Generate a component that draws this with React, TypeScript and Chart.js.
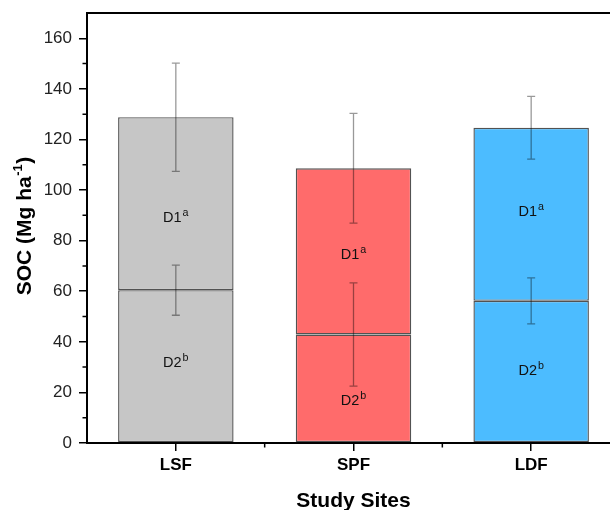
import React, { useEffect, useRef } from "react";
import { Chart, registerables } from "chart.js";

Chart.register(...registerables);

const categories = ["LSF", "SPF", "LDF"];
const d2Values = [60.4, 42.9, 56.2];
const d1Values = [68.4, 65.7, 68.4];
const d2Err = [9.9, 20.4, 9.1];
const totalErr = [21.4, 21.7, 12.4];
const d1LabelY = [89.5, 74.7, 91.7];
const d2LabelY = [32, 17, 28.8];
const d1Letters = ["a", "a", "a"];
const d2Letters = ["b", "b", "b"];
const fillColors = ["#c6c6c6", "#ff6b6b", "#4cbcff"];
const yMinorTicks = [10, 30, 50, 70, 90, 110, 130, 150];

const FONT = "'Liberation Sans', Arial, sans-serif";

function drawSup(ctx: CanvasRenderingContext2D, base: string, sup: string, cx: number, cy: number, size: number) {
  ctx.save();
  ctx.fillStyle = "#111";
  ctx.textBaseline = "alphabetic";
  ctx.font = `${size}px ${FONT}`;
  const w1 = ctx.measureText(base).width;
  const supSize = size * 0.74;
  ctx.font = `${supSize}px ${FONT}`;
  const w2 = ctx.measureText(sup).width;
  const total = w1 + w2 + 1;
  const x0 = cx - total / 2;
  const baseline = cy + size * 0.36;
  ctx.textAlign = "left";
  ctx.font = `${size}px ${FONT}`;
  ctx.fillText(base, x0, baseline);
  ctx.font = `${supSize}px ${FONT}`;
  ctx.fillText(sup, x0 + w1 + 1, baseline - size * 0.42);
  ctx.restore();
}

const extrasPlugin = {
  id: "extras",
  afterDatasetsDraw(chart: any) {
    const ctx: CanvasRenderingContext2D = chart.ctx;
    const x = chart.scales.x;
    const y = chart.scales.y;
    ctx.save();
    ctx.strokeStyle = "rgba(0,0,0,0.4)";
    ctx.lineWidth = 1.3;
    categories.forEach((_, i) => {
      const cx = x.getPixelForValue(i);
      const total = d2Values[i] + d1Values[i];
      const bars = [
        [d2Values[i], d2Err[i]],
        [total, totalErr[i]],
      ];
      bars.forEach(([v, e]) => {
        const yt = y.getPixelForValue(v + e);
        const yb = y.getPixelForValue(v - e);
        ctx.beginPath();
        ctx.moveTo(cx, yt);
        ctx.lineTo(cx, yb);
        ctx.moveTo(cx - 4, yt);
        ctx.lineTo(cx + 4, yt);
        ctx.moveTo(cx - 4, yb);
        ctx.lineTo(cx + 4, yb);
        ctx.stroke();
      });
      drawSup(ctx, "D1", d1Letters[i], cx, y.getPixelForValue(d1LabelY[i]), 14.5);
      drawSup(ctx, "D2", d2Letters[i], cx, y.getPixelForValue(d2LabelY[i]), 14.5);
    });
    ctx.restore();
  },
  afterDraw(chart: any) {
    const ctx: CanvasRenderingContext2D = chart.ctx;
    const x = chart.scales.x;
    const y = chart.scales.y;
    const area = chart.chartArea;
    ctx.save();
    ctx.strokeStyle = "#000";
    ctx.lineWidth = 2;
    ctx.beginPath();
    ctx.moveTo(area.left - 1, area.top);
    ctx.lineTo(chart.width, area.top);
    ctx.stroke();
    ctx.lineWidth = 1.5;
    ctx.beginPath();
    yMinorTicks.forEach((v) => {
      const py = y.getPixelForValue(v);
      ctx.moveTo(area.left - 4.5, py);
      ctx.lineTo(area.left, py);
    });
    for (let i = 0; i < categories.length - 1; i++) {
      const px = (x.getPixelForValue(i) + x.getPixelForValue(i + 1)) / 2;
      ctx.moveTo(px, area.bottom);
      ctx.lineTo(px, area.bottom + 4.5);
    }
    ctx.stroke();
    ctx.save();
    ctx.translate(25, 226);
    ctx.rotate(-Math.PI / 2);
    ctx.fillStyle = "#000";
    ctx.textBaseline = "middle";
    const big = `bold 21px ${FONT}`;
    const small = `bold 13px ${FONT}`;
    ctx.font = big;
    const p1 = "SOC (Mg ha";
    const w1 = ctx.measureText(p1).width;
    ctx.font = small;
    const w2 = ctx.measureText("-1").width;
    ctx.font = big;
    const w3 = ctx.measureText(")").width;
    const tot = w1 + w2 + w3 + 1;
    const sx = -tot / 2;
    ctx.textAlign = "left";
    ctx.fillText(p1, sx, 0);
    ctx.font = small;
    ctx.fillText("-1", sx + w1 + 0.5, -7);
    ctx.font = big;
    ctx.fillText(")", sx + w1 + w2 + 1, 0);
    ctx.restore();
    ctx.fillStyle = "#000";
    ctx.font = `bold 21px ${FONT}`;
    ctx.textAlign = "center";
    ctx.textBaseline = "alphabetic";
    ctx.fillText("Study Sites", (area.left + area.right) / 2, 507);
    ctx.restore();
  },
};

export default function App() {
  const ref = useRef<HTMLCanvasElement | null>(null);
  useEffect(() => {
    if (!ref.current) return;
    const chart = new Chart(ref.current, {
      type: "bar",
      data: {
        labels: categories,
        datasets: [
          {
            label: "D2",
            data: d2Values,
            backgroundColor: fillColors,
            borderColor: "rgba(0,0,0,0.68)",
            borderWidth: 1.4,
            borderSkipped: false,
            categoryPercentage: 1,
            barPercentage: 0.65,
          },
          {
            label: "D1",
            data: d1Values,
            backgroundColor: fillColors,
            borderColor: "rgba(0,0,0,0.68)",
            borderWidth: 1.4,
            borderSkipped: false,
            categoryPercentage: 1,
            barPercentage: 0.65,
          },
        ],
      },
      options: {
        responsive: false,
        animation: false,
        layout: { padding: { top: 13, right: 5, left: 0, bottom: 0 } },
        plugins: { legend: { display: false }, tooltip: { enabled: false } },
        scales: {
          x: {
            stacked: true,
            afterFit: (s: any) => {
              s.height = 67;
              s.paddingLeft = 0;
              s.paddingRight = 0;
            },
            grid: {
              display: true,
              drawOnChartArea: false,
              drawTicks: true,
              offset: false,
              tickLength: 8,
              color: "#000",
              lineWidth: 1.5,
            },
            border: { display: true, color: "#000", width: 2 },
            ticks: {
              padding: 4,
              color: "#000",
              font: { family: FONT, size: 17, weight: "bold" },
            },
          },
          y: {
            stacked: true,
            min: 0,
            max: 170,
            afterFit: (s: any) => {
              s.width = 87;
              s.paddingTop = 0;
              s.paddingBottom = 0;
            },
            grid: {
              display: true,
              drawOnChartArea: false,
              drawTicks: true,
              tickLength: 8,
              color: "#000",
              lineWidth: 1.5,
            },
            border: { display: true, color: "#000", width: 2 },
            ticks: {
              stepSize: 20,
              includeBounds: false,
              padding: 7,
              color: "#222",
              font: { family: FONT, size: 17 },
            },
          },
        },
      },
      plugins: [extrasPlugin],
    } as any);
    return () => chart.destroy();
  }, []);
  return (
    <div style={{ position: "fixed", left: 0, top: 0, width: 610, height: 510, overflow: "hidden", background: "#fff" }}>
      <canvas ref={ref} width={625} height={510} style={{ width: 625, height: 510, display: "block" }} />
    </div>
  );
}
